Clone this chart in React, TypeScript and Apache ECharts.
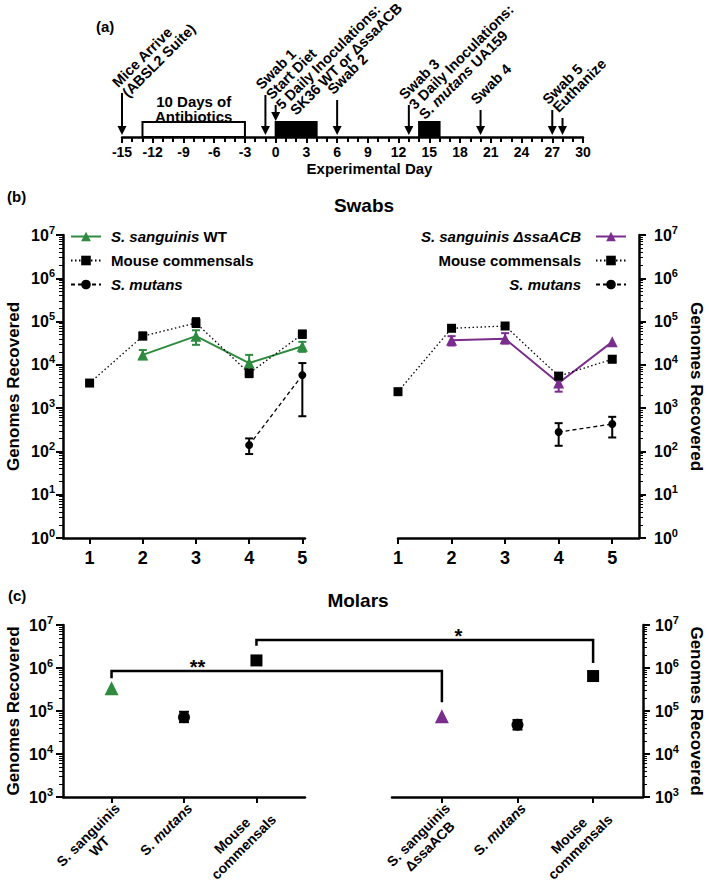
import React, { useEffect, useRef } from 'react';
import * as echarts from 'echarts';

const FONT = '"Liberation Sans", Arial, Helvetica, sans-serif';
const INK = '#000000';
const GREEN = '#2e8b3f';
const PURPLE = '#7b2d8e';

/* ---------------- (a) timeline data ---------------- */
const dayMin = -15;
const dayMax = 30;
const periodStart = [-13, 0, 14];
const periodEnd = [-3, 4, 16];
const periodFilled = [0, 1, 1];
const periodLabel = ['10 Days of\nAntibiotics', '', ''];
const eventDay = [-15, -1, 0, 6, 13, 20, 27, 28];
const eventOnBox = [0, 0, 1, 0, 0, 0, 0, 0];
const eventLabel: string[][] = [
  ['Mice Arrive', '(ABSL2 Suite)'],
  ['Swab 1'],
  ['Start Diet', '5 Daily Inoculations:', 'SK36 WT or \u0394ssaACB'],
  ['Swab 2'],
  ['Swab 3', '3 Daily Inoculations:', 'S. _mutans_ UA159'],
  ['Swab 4'],
  ['Swab 5'],
  ['Euthanize'],
];

/* ---------------- (b) swabs data ---------------- */
const swabNumber = [1, 2, 3, 4, 5];
const leftNames = ['S. sanguinis WT', 'Mouse commensals', 'S. mutans'];
const rightNames = ['S. sanguinis \u0394ssaACB', 'Mouse commensals', 'S. mutans'];
const legendMarkup: Record<string, string> = {
  'S. sanguinis WT': '_S. sanguinis_ WT',
  'Mouse commensals': 'Mouse commensals',
  'S. mutans': '_S. mutans_',
  'S. sanguinis \u0394ssaACB': '_S. sanguinis \u0394ssaACB_',
};
// WT group
const wtSang = [null, 1.7e4, 4.6e4, 1.1e4, 2.7e4];
const wtSangLo = [null, 1.35e4, 2.9e4, 6.8e3, 2.0e4];
const wtSangHi = [null, 2.2e4, 6.3e4, 1.7e4, 3.4e4];
const wtComm = [3.8e3, 4.6e4, 9.3e4, 6.4e3, 5.1e4];
const wtCommLo = [null, 4.0e4, 7.5e4, 5.2e3, 4.2e4];
const wtCommHi = [null, 5.6e4, 1.2e5, 8.3e3, 6.2e4];
const wtMut = [null, null, null, 1.4e2, 5.8e3];
const wtMutLo = [null, null, null, 87, 6.5e2];
const wtMutHi = [null, null, null, 2.0e2, 1.1e4];
// ΔssaACB group
const dSang = [null, 3.7e4, 4.0e4, 3.8e3, 3.4e4];
const dSangLo = [null, 2.8e4, 3.1e4, 2.4e3, null];
const dSangHi = [null, 4.6e4, 5.4e4, 5.3e3, null];
const dComm = [2.4e3, 7.0e4, 7.9e4, 5.5e3, 1.35e4];
const dCommLo = [null, null, null, 4.8e3, 1.15e4];
const dCommHi = [null, null, null, 6.3e3, 1.6e4];
const dMut = [null, null, null, 2.8e2, 4.3e2];
const dMutLo = [null, null, null, 1.35e2, 2.1e2];
const dMutHi = [null, null, null, 4.5e2, 6.3e2];

/* ---------------- (c) molars data ---------------- */
const molarPos = [1, 2, 3];
const molarLeftLabels = ['S. sanguinis\nWT', 'S. _mutans_', 'Mouse\ncommensals'];
const molarRightLabels = ['S. sanguinis\n\u0394ssaACB', 'S. _mutans_', 'Mouse\ncommensals'];
const molarWT = [3.4e5, 7.2e4, 1.5e6];
const molarWTLo = [null, 5.5e4, null];
const molarWTHi = [null, 9.6e4, null];
const molarD = [7.5e4, 4.8e4, 6.5e5];
const molarDLo = [null, 3.7e4, null];
const molarDHi = [null, 6.2e4, null];
const sigLabel = ['**', '*'];
const sigCat = [1, 3];
const sigLevel = [8.5e5, 4.5e6];
const sigLeftEnd = [5.8e5, 3.3e6];
const sigRightEnd = [1.6e5, 1.3e6];

/* ---------------- styling helpers ---------------- */
const toRich = (s: string) =>
  s
    .split('\n')
    .map((ln) =>
      ln
        .split('_')
        .map((p, k) => (p ? `{${k % 2 ? 'i' : 'n'}|${p}}` : ''))
        .join('')
    )
    .join('\n');

const richSet = (size: number, extra: any = {}, colorKey = 'color') => ({
  n: { fontSize: size, fontWeight: 'bold', fontFamily: FONT, [colorKey]: INK, ...extra },
  i: { fontSize: size, fontWeight: 'bold', fontStyle: 'italic', fontFamily: FONT, [colorKey]: INK, ...extra },
});

const supLabel = (v: number) => `{a|10}{s|${Math.round(Math.log10(v))}}`;
const SUP_RICH = {
  a: { fontSize: 16, fontWeight: 'bold', fontFamily: FONT, color: INK, lineHeight: 22 },
  s: { fontSize: 11, fontWeight: 'bold', fontFamily: FONT, color: INK, verticalAlign: 'top', lineHeight: 12 },
};

const axisLine = { show: true, onZero: false, lineStyle: { color: INK, width: 2.5 } };

function logY(grid: number, min: number, pos: 'left' | 'right', margin: number, nameGap: number) {
  return {
    type: 'log',
    gridIndex: grid,
    min,
    max: 1e7,
    logBase: 10,
    position: pos,
    axisLine,
    axisTick: { show: true, length: 7, lineStyle: { color: INK, width: 2 } },
    minorTick: { show: true, splitNumber: 9, length: 4, lineStyle: { color: INK, width: 1 } },
    axisLabel: { formatter: supLabel, rich: SUP_RICH, margin, color: INK },
    splitLine: { show: false },
    minorSplitLine: { show: false },
    name: 'Genomes Recovered',
    nameLocation: 'middle',
    nameGap,
    nameRotate: pos === 'left' ? 90 : -90,
    nameMoveOverlap: false,
    nameTextStyle: { fontSize: 17, fontWeight: 'bold', color: INK, fontFamily: FONT },
  };
}

function swabX(grid: number, min: number, max: number) {
  return {
    type: 'value',
    gridIndex: grid,
    min,
    max,
    axisLine,
    axisTick: { show: true, customValues: swabNumber, length: 6, lineStyle: { color: INK, width: 2 } },
    axisLabel: { customValues: swabNumber, fontSize: 18, fontWeight: 'bold', fontFamily: FONT, color: INK, margin: 11 },
    splitLine: { show: false },
  };
}

const CAT_RICH = richSet(14, { align: 'center', lineHeight: 16 });
function molarX(grid: number, min: number, max: number, labels: string[]) {
  return {
    type: 'value',
    gridIndex: grid,
    min,
    max,
    axisLine,
    axisTick: { show: true, customValues: molarPos, length: 6, lineStyle: { color: INK, width: 2 } },
    axisLabel: {
      customValues: molarPos,
      formatter: (v: number) => toRich(labels[Math.round(v) - 1]),
      rotate: 45,
      align: 'right',
      verticalAlign: 'top',
      margin: 3,
      rich: CAT_RICH,
    },
    splitLine: { show: false },
  };
}

const pairs = (xs: number[], ys: (number | null)[]) =>
  xs.map((x, i) => (ys[i] == null ? null : [x, ys[i]])).filter(Boolean);
const errRows = (xs: number[], lo: (number | null)[], hi: (number | null)[]) =>
  xs.map((x, i) => (lo[i] == null ? null : [x, lo[i], hi[i]])).filter(Boolean);

function errorBars(xi: number, yi: number, rows: any[], color: string, cap = 4) {
  return {
    type: 'custom',
    xAxisIndex: xi,
    yAxisIndex: yi,
    silent: true,
    z: 2,
    clip: false,
    encode: { x: 0, y: [1, 2] },
    data: rows,
    renderItem: (_p: any, api: any) => {
      const x = api.value(0);
      const a = api.coord([x, api.value(2)]);
      const b = api.coord([x, api.value(1)]);
      const st = { stroke: color, lineWidth: 2 };
      return {
        type: 'group',
        children: [
          { type: 'line', shape: { x1: a[0], y1: a[1], x2: b[0], y2: b[1] }, style: st },
          { type: 'line', shape: { x1: a[0] - cap, y1: a[1], x2: a[0] + cap, y2: a[1] }, style: st },
          { type: 'line', shape: { x1: b[0] - cap, y1: b[1], x2: b[0] + cap, y2: b[1] }, style: st },
        ],
      };
    },
  };
}

function lineSeries(name: string, xi: number, yi: number, ys: (number | null)[], kind: 'sang' | 'comm' | 'mut', color: string) {
  const symbol = kind === 'sang' ? 'triangle' : kind === 'comm' ? 'rect' : 'circle';
  const symbolSize = kind === 'sang' ? 11 : kind === 'comm' ? 9 : 8;
  const lineType: any = kind === 'sang' ? 'solid' : kind === 'comm' ? [1.5, 2.5] : [4, 3];
  return {
    type: 'line',
    name,
    xAxisIndex: xi,
    yAxisIndex: yi,
    data: pairs(swabNumber, ys),
    symbol,
    symbolSize,
    showSymbol: true,
    z: 3,
    itemStyle: { color, opacity: 1 },
    lineStyle: { color, width: kind === 'sang' ? 2 : 1.3, type: lineType },
  };
}

/* timeline layout (pixels) */
const eventStem = [44, 42, 17, 37, 32, 27, 27, 19];
const eventLineShift: number[][] = [[0, 0], [0], [0, 0, 6], [0], [0, 0, 0], [0], [0], [0]];
const TL_STEP = 10;
const TL_FONT = 14.5;
const TL_RICH = richSet(TL_FONT, {}, 'fill');

function buildOption() {
  const gridBase = { outerBoundsMode: 'none', containLabel: false, show: false };
  return {
    animation: false,
    backgroundColor: '#ffffff',
    textStyle: { fontFamily: FONT },
    grid: [
      { ...gridBase, left: 122, top: 122, width: 461, height: 15 },
      { ...gridBase, left: 63, top: 235, width: 242, height: 303 },
      { ...gridBase, left: 398, top: 235, width: 241, height: 303 },
      { ...gridBase, left: 63, top: 625, width: 242, height: 172 },
      { ...gridBase, left: 392, top: 625, width: 251, height: 172 },
    ],
    xAxis: [
      {
        type: 'value',
        gridIndex: 0,
        min: dayMin,
        max: dayMax,
        interval: 3,
        position: 'bottom',
        axisLine,
        axisTick: { show: true, length: 6, lineStyle: { color: INK, width: 2 } },
        minorTick: { show: true, splitNumber: 3, length: 5, lineStyle: { color: INK, width: 2 } },
        axisLabel: { color: INK, fontSize: 14, fontWeight: 'bold', fontFamily: FONT, margin: 8 },
        splitLine: { show: false },
        name: 'Experimental Day',
        nameLocation: 'middle',
        nameGap: 24,
        nameMoveOverlap: false,
        nameTextStyle: { fontSize: 15, fontWeight: 'bold', color: INK, fontFamily: FONT, lineHeight: 15, padding: [0, 0, 0, 34] },
      },
      swabX(1, 0.5, 5.05),
      swabX(2, 1, 5.5),
      molarX(3, 0.33, 3.67, molarLeftLabels),
      molarX(4, 0.34, 3.66, molarRightLabels),
    ],
    yAxis: [
      { type: 'value', gridIndex: 0, min: 0, max: 1, show: false },
      logY(1, 1, 'left', 8, 41),
      logY(2, 1, 'right', 15, 49),
      logY(3, 1e3, 'left', 10, 41),
      logY(4, 1e3, 'right', 12, 45),
    ],
    legend: [
      {
        id: 'lgL',
        left: 70,
        top: 229,
        orient: 'vertical',
        padding: 0,
        itemGap: 9,
        itemWidth: 30,
        itemHeight: 12,
        selectedMode: false,
        data: leftNames,
        formatter: (n: string) => toRich(legendMarkup[n]),
        textStyle: { fontSize: 15, fontWeight: 'bold', color: INK, fontFamily: FONT, padding: [0, 0, 0, 5], rich: richSet(15) },
      },
      {
        id: 'lgR',
        right: 82,
        top: 229,
        orient: 'vertical',
        align: 'right',
        padding: 0,
        itemGap: 9,
        itemWidth: 30,
        itemHeight: 12,
        selectedMode: false,
        data: rightNames,
        formatter: (n: string) => toRich(legendMarkup[n]),
        textStyle: { fontSize: 15, fontWeight: 'bold', color: INK, fontFamily: FONT, padding: [0, 10, 0, 0], rich: richSet(15) },
      },
    ],
    graphic: [
      { id: 'ta', type: 'text', x: 96, y: 26, style: { text: '(a)', fill: INK, fontSize: 15, fontWeight: 'bold', fontFamily: FONT, align: 'left', verticalAlign: 'middle' } },
      { id: 'tb', type: 'text', x: 7, y: 196, style: { text: '(b)', fill: INK, fontSize: 15, fontWeight: 'bold', fontFamily: FONT, align: 'left', verticalAlign: 'middle' } },
      { id: 'tc', type: 'text', x: 8, y: 595, style: { text: '(c)', fill: INK, fontSize: 15, fontWeight: 'bold', fontFamily: FONT, align: 'left', verticalAlign: 'middle' } },
      { id: 'tSw', type: 'text', x: 364, y: 205, style: { text: 'Swabs', fill: INK, fontSize: 19, fontWeight: 'bold', fontFamily: FONT, align: 'center', verticalAlign: 'middle' } },
      { id: 'tMo', type: 'text', x: 358, y: 600, style: { text: 'Molars', fill: INK, fontSize: 19, fontWeight: 'bold', fontFamily: FONT, align: 'center', verticalAlign: 'middle' } },
    ],
    series: [
      // timeline periods
      {
        type: 'custom',
        xAxisIndex: 0,
        yAxisIndex: 0,
        silent: true,
        clip: false,
        data: periodStart.map((s, i) => [s, periodEnd[i], periodFilled[i]]),
        encode: { x: [0, 1] },
        renderItem: (params: any, api: any) => {
          const i = params.dataIndex;
          const a = api.coord([api.value(0), 1]);
          const b = api.coord([api.value(1), 0]);
          const children: any[] = [
            {
              type: 'rect',
              shape: { x: a[0], y: a[1], width: b[0] - a[0], height: b[1] - a[1] },
              style: { fill: api.value(2) ? INK : '#ffffff', stroke: INK, lineWidth: 2 },
            },
          ];
          if (periodLabel[i]) {
            children.push({
              type: 'text',
              x: (a[0] + b[0]) / 2,
              y: a[1] + 2,
              style: { text: periodLabel[i], fill: INK, fontSize: 15, fontWeight: 'bold', fontFamily: FONT, align: 'center', verticalAlign: 'bottom', lineHeight: 15 },
            });
          }
          return { type: 'group', children };
        },
      },
      // timeline events
      {
        type: 'custom',
        xAxisIndex: 0,
        yAxisIndex: 0,
        silent: true,
        clip: false,
        z: 4,
        data: eventDay.map((d, i) => [d, eventOnBox[i]]),
        encode: { x: 0 },
        renderItem: (params: any, api: any) => {
          const i = params.dataIndex;
          const tip = api.coord([api.value(0), api.value(1)]);
          const x = tip[0];
          const tipY = tip[1] - (eventOnBox[i] ? 1 : 2);
          const topY = tip[1] - eventStem[i];
          const children: any[] = [
            { type: 'line', shape: { x1: x, y1: topY, x2: x, y2: tipY - 6 }, style: { stroke: INK, lineWidth: 2 } },
            { type: 'polygon', shape: { points: [[x - 4.5, tipY - 9], [x + 4.5, tipY - 9], [x, tipY]] }, style: { fill: INK } },
          ];
          eventLabel[i].forEach((ln, j) => {
            const sh = (eventLineShift[i] && eventLineShift[i][j]) || 0;
            children.push({
              type: 'text',
              x: x - 2 + j * TL_STEP + sh * 0.707,
              y: topY - 3 + j * TL_STEP - sh * 0.707,
              rotation: Math.PI / 4,
              style: { text: toRich(ln), rich: TL_RICH, fill: INK, fontSize: TL_FONT, fontWeight: 'bold', fontFamily: FONT, align: 'left', verticalAlign: 'bottom' },
            });
          });
          return { type: 'group', children };
        },
      },
      // (b) left
      errorBars(1, 1, errRows(swabNumber, wtCommLo, wtCommHi), INK),
      errorBars(1, 1, errRows(swabNumber, wtMutLo, wtMutHi), INK),
      errorBars(1, 1, errRows(swabNumber, wtSangLo, wtSangHi), GREEN),
      lineSeries(leftNames[0], 1, 1, wtSang, 'sang', GREEN),
      lineSeries(leftNames[1], 1, 1, wtComm, 'comm', INK),
      lineSeries(leftNames[2], 1, 1, wtMut, 'mut', INK),
      // (b) right
      errorBars(2, 2, errRows(swabNumber, dCommLo, dCommHi), INK),
      errorBars(2, 2, errRows(swabNumber, dMutLo, dMutHi), INK),
      errorBars(2, 2, errRows(swabNumber, dSangLo, dSangHi), PURPLE),
      lineSeries(rightNames[0], 2, 2, dSang, 'sang', PURPLE),
      lineSeries(rightNames[1], 2, 2, dComm, 'comm', INK),
      lineSeries(rightNames[2], 2, 2, dMut, 'mut', INK),
      // (c) molars
      errorBars(3, 3, errRows(molarPos, molarWTLo, molarWTHi), INK, 5),
      errorBars(4, 4, errRows(molarPos, molarDLo, molarDHi), INK, 5),
      {
        type: 'scatter',
        xAxisIndex: 3,
        yAxisIndex: 3,
        z: 3,
        data: molarPos.map((p, i) => ({
          value: [p, molarWT[i]],
          symbol: ['triangle', 'circle', 'rect'][i],
          symbolSize: [14, 12, 12][i],
          itemStyle: { color: [GREEN, INK, INK][i], opacity: 1 },
        })),
      },
      {
        type: 'scatter',
        xAxisIndex: 4,
        yAxisIndex: 4,
        z: 3,
        data: molarPos.map((p, i) => ({
          value: [p, molarD[i]],
          symbol: ['triangle', 'circle', 'rect'][i],
          symbolSize: [14, 12, 12][i],
          itemStyle: { color: [PURPLE, INK, INK][i], opacity: 1 },
        })),
      },
    ],
  };
}

const starFrac = [0.26, 0.6];

function buildBrackets(chart: any) {
  const out: any[] = [];
  sigLabel.forEach((lab, k) => {
    const L = { xAxisIndex: 3, yAxisIndex: 3 };
    const R = { xAxisIndex: 4, yAxisIndex: 4 };
    const lTop = chart.convertToPixel(L, [sigCat[k], sigLevel[k]]);
    const lEnd = chart.convertToPixel(L, [sigCat[k], sigLeftEnd[k]]);
    const rTop = chart.convertToPixel(R, [sigCat[k], sigLevel[k]]);
    const rEnd = chart.convertToPixel(R, [sigCat[k], sigRightEnd[k]]);
    out.push({
      id: 'br' + k,
      type: 'polyline',
      shape: { points: [lEnd, lTop, rTop, rEnd] },
      style: { stroke: INK, lineWidth: 2.5, fill: null },
      z: 10,
    });
    out.push({
      id: 'st' + k,
      type: 'text',
      x: lTop[0] + starFrac[k] * (rTop[0] - lTop[0]),
      y: lTop[1] - 4,
      z: 10,
      style: { text: lab, fill: INK, fontSize: 20, fontWeight: 'bold', fontFamily: FONT, align: 'center', verticalAlign: 'middle' },
    });
  });
  return out;
}

export default function App() {
  const ref = useRef<HTMLDivElement>(null);
  useEffect(() => {
    document.body.style.margin = '0';
    const chart = echarts.init(ref.current as HTMLDivElement, null, { renderer: 'svg' });
    chart.setOption(buildOption() as any);
    chart.setOption({ graphic: buildBrackets(chart) } as any);
    return () => chart.dispose();
  }, []);
  return <div ref={ref} style={{ width: 709, height: 884 }} />;
}
